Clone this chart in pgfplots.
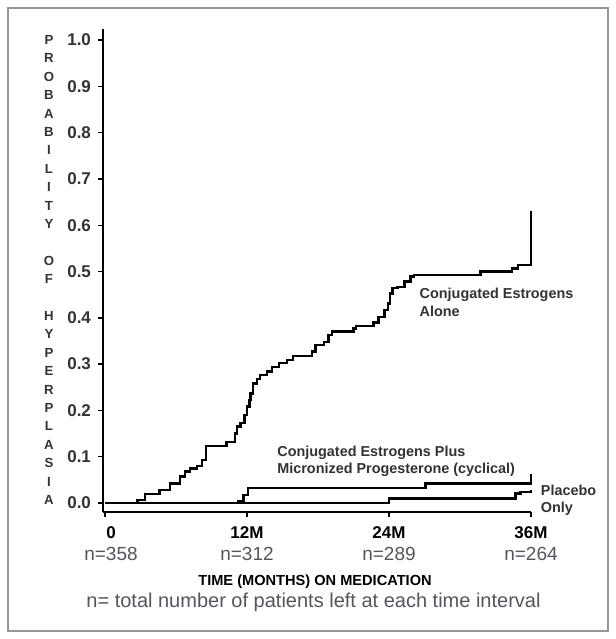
\documentclass[border=0pt]{standalone}
\usepackage{fontspec}
\setmainfont{Liberation Sans}
\usepackage{pgfplots}
\pgfplotsset{compat=1.18}
\definecolor{labgray}{RGB}{50,50,55}
\definecolor{ngray}{RGB}{85,85,95}
\definecolor{framegray}{RGB}{150,150,150}

\begin{document}
\begin{tikzpicture}
\fill[white] (0,0) rectangle (308pt,319.5pt);
\draw[framegray, line width=1pt] (4pt,4pt) rectangle (304pt,315.5pt);
\begin{axis}[
  at={(51.5pt,63.65pt)}, anchor=south west,
  scale only axis, width=214pt, height=241.35pt,
  xmin=-0.17, xmax=36, ymin=-0.0188, ymax=1.0238,
  axis lines*=left,
  axis line style={line width=1pt},
  clip=false,
  tick align=outside,
  major tick length=2.5pt,
  tick style={line width=0.7pt, black},
  xtick={12,24,36},
  xticklabels={
    {\textbf{\color{black}\fontsize{8.5}{11}\selectfont 12M}\\n=312},
    {\textbf{\color{black}\fontsize{8.5}{11}\selectfont 24M}\\n=289},
    {\textbf{\color{black}\fontsize{8.5}{11}\selectfont 36M}\\n=264}},
  extra x ticks={0},
  extra x tick labels={{\textbf{\color{black}\fontsize{8.5}{11}\selectfont 0}\\n=358}},
  extra x tick style={xticklabel style={xshift=3pt}},
  xticklabel style={align=center, font=\fontsize{9.5}{11}\selectfont, text=ngray, yshift=-1.5pt},
  ytick={0,0.1,0.2,0.3,0.4,0.5,0.6,0.7,0.8,0.9,1.0},
  yticklabel={\pgfmathprintnumber[fixed,fixed zerofill,precision=1,assume math mode=true]{\tick}},
  yticklabel style={font=\bfseries\fontsize{8.5}{10}\selectfont, text=labgray},
]

% conjugated estrogens alone
\addplot[black, line width=1.25pt, const plot] coordinates {
  (0,0) (2.74,0.0065) (3.39,0.019) (4.6,0.028) (5.5,0.0425) (6.35,0.057)
  (6.77,0.068) (7.2,0.075) (7.76,0.08) (8.19,0.093) (8.55,0.123)
  (10.25,0.132) (11.0,0.15) (11.15,0.165) (11.43,0.173) (11.77,0.19)
  (12.0,0.208) (12.19,0.222) (12.28,0.237) (12.5,0.258) (12.84,0.268)
  (13.1,0.276) (13.7,0.284) (14.1,0.294) (14.7,0.302) (15.4,0.309)
  (15.9,0.317) (17.5,0.327) (17.8,0.341) (18.5,0.348) (18.9,0.363)
  (19.2,0.37) (21.0,0.377) (21.2,0.382) (22.7,0.39) (23.1,0.402)
  (23.6,0.417) (23.9,0.431) (24.1,0.453) (24.3,0.464) (24.7,0.467)
  (25.3,0.478) (25.8,0.489) (26.1,0.492) (31.75,0.5) (34.4,0.507)
  (34.9,0.514) (36,0.63)
};

% conjugated estrogens plus micronized progesterone
\addplot[black, line width=1.25pt, const plot] coordinates {
  (0,0) (11.3,0.004) (11.7,0.017) (12.1,0.032) (27.1,0.0425) (36,0.063)
};

% placebo
\addplot[black, line width=1.25pt, const plot] coordinates {
  (0,0) (24.0,0.01) (34.7,0.021) (35.1,0.024) (36,0.029)
};

\node[anchor=west, align=left, font=\bfseries\fontsize{7.2}{9}\selectfont, text=labgray]
  at (axis cs:26.0,0.434) {Conjugated Estrogens\\Alone};
\node[anchor=west, align=left, font=\bfseries\fontsize{7.2}{8.5}\selectfont, text=labgray]
  at (axis cs:13.97,0.0896) {Conjugated Estrogens Plus\\Micronized Progesterone (cyclical)};
\node[anchor=west, align=left, font=\bfseries\fontsize{7.2}{8.5}\selectfont, text=labgray]
  at (axis cs:36.24,0.0054) {Placebo\\Only};
\end{axis}

\node[font=\bfseries\fontsize{6.6}{9.2}\selectfont, text=labgray, align=center]
  at (24.5pt,184.5pt)
  {P\\R\\O\\B\\A\\B\\I\\L\\I\\T\\Y\\\mbox{}\\O\\F\\\mbox{}\\H\\Y\\P\\E\\R\\P\\L\\A\\S\\I\\A};
\node[font=\bfseries\fontsize{7.3}{9}\selectfont] at (157.5pt,28.5pt)
  {TIME (MONTHS) ON MEDICATION};
\node[font=\fontsize{10}{12}\selectfont, text=ngray] at (156.75pt,18.5pt)
  {n= total number of patients left at each time interval};
\end{tikzpicture}
\end{document}
